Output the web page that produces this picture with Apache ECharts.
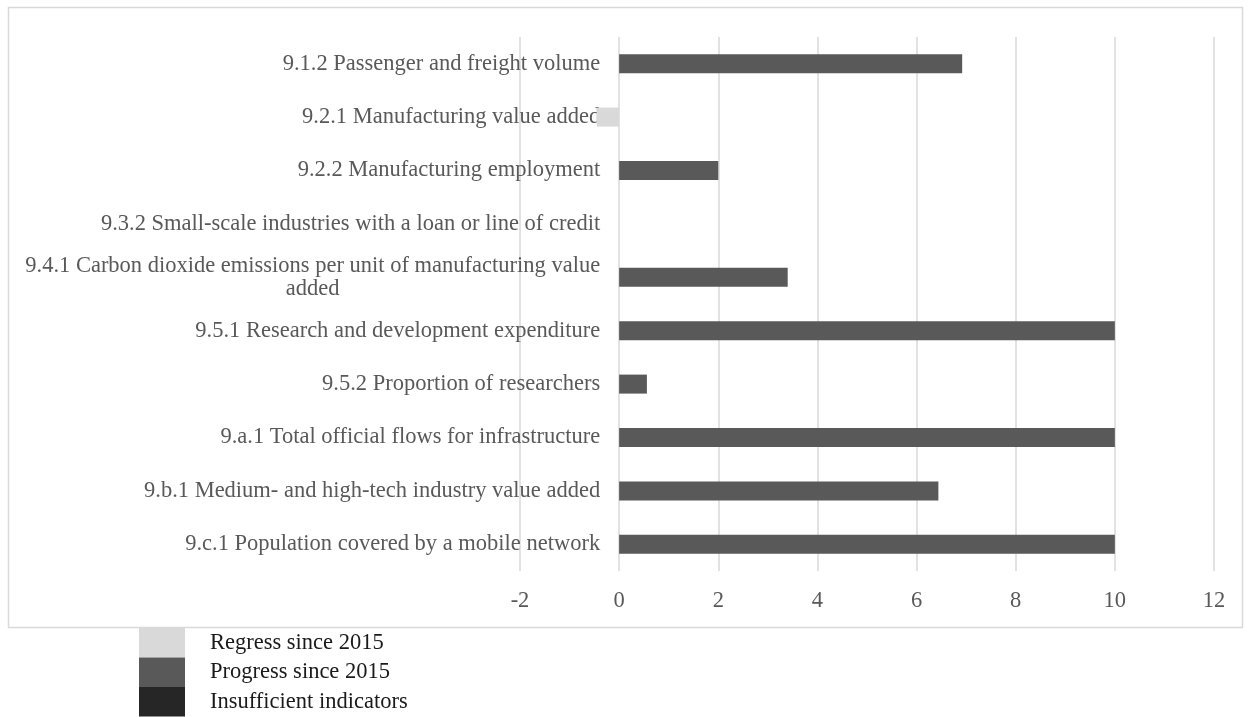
<!DOCTYPE html>
<html>
<head>
<meta charset="utf-8">
<script src="https://cdn.jsdelivr.net/npm/echarts@6/dist/echarts.min.js"></script>
<style>
  html, body { margin: 0; padding: 0; background: #fff; }
  #chart { width: 1250px; height: 717px; }
</style>
</head>
<body>
<div id="chart"></div>
<script>
// SDG 9 indicators, top to bottom
const categories = [
  '9.1.2 Passenger and freight volume',
  '9.2.1 Manufacturing value added',
  '9.2.2 Manufacturing employment',
  '9.3.2 Small-scale industries with a loan or line of credit',
  '9.4.1 Carbon dioxide emissions per unit of manufacturing value\nadded',
  '9.5.1 Research and development expenditure',
  '9.5.2 Proportion of researchers',
  '9.a.1 Total official flows for infrastructure',
  '9.b.1 Medium- and high-tech industry value added',
  '9.c.1 Population covered by a mobile network'
];
const regressValues      = [null, -0.45, null, null, null, null, null, null, null, null];
const progressValues     = [6.92, null, 2.0, null, 3.4, 10, 0.56, 10, 6.44, 10];
const insufficientValues = [null, null, null, null, null, null, null, null, null, null];
const seriesNames = ['Regress since 2015', 'Progress since 2015', 'Insufficient indicators'];
const xTicks = { min: -2, max: 12, interval: 2 };

const serif = '"Liberation Serif", "DejaVu Serif", serif';
const textSize = 22.5;

const gridLeft = 520, gridRight = 36;
const plotWidth = 1250 - gridLeft - gridRight;
// the category labels sit against the zero line of the value axis
const zeroShift = plotWidth * (0 - xTicks.min) / (xTicks.max - xTicks.min);

const chart = echarts.init(document.getElementById('chart'));

chart.setOption({
  animation: false,
  backgroundColor: '#fff',
  graphic: [{
    type: 'rect',
    shape: { x: 8.5, y: 7.5, width: 1234, height: 620 },
    style: { fill: 'none', stroke: '#d9d9d9', lineWidth: 1.5 },
    z: -10
  }],
  grid: { left: gridLeft, right: gridRight, top: 37, bottom: 146 },
  legend: {
    orient: 'vertical',
    left: 139,
    top: 628,
    itemWidth: 46,
    itemHeight: 29.5,
    itemGap: 0,
    padding: 0,
    icon: 'rect',
    selectedMode: false,
    textStyle: { fontFamily: serif, fontSize: textSize, color: '#1a1a1a', padding: [0, 0, 0, 20] },
    data: seriesNames
  },
  xAxis: {
    type: 'value',
    min: xTicks.min,
    max: xTicks.max,
    interval: xTicks.interval,
    axisLine: { show: false },
    axisTick: { show: false },
    splitLine: { lineStyle: { color: '#d9d9d9', width: 1.5 } },
    axisLabel: { fontFamily: serif, fontSize: textSize, color: '#595959', margin: 19 }
  },
  yAxis: {
    type: 'category',
    inverse: true,
    data: categories,
    offset: -zeroShift,
    axisLine: { show: false },
    axisTick: { show: false },
    axisLabel: {
      margin: 19,
      formatter: function (v) {
        return v.split('\n').map(function (s) { return '{c|' + s + '}'; }).join('\n');
      },
      rich: {
        c: { fontFamily: serif, fontSize: textSize, color: '#595959', lineHeight: 23, align: 'center' }
      }
    }
  },
  series: [
    { name: seriesNames[0], type: 'bar', stack: 'total', barWidth: 19,
      itemStyle: { color: '#d9d9d9' }, data: regressValues },
    { name: seriesNames[1], type: 'bar', stack: 'total', barWidth: 19,
      itemStyle: { color: '#595959' }, data: progressValues },
    { name: seriesNames[2], type: 'bar', stack: 'total', barWidth: 19,
      itemStyle: { color: '#262626' }, data: insufficientValues }
  ]
});
</script>
</body>
</html>
